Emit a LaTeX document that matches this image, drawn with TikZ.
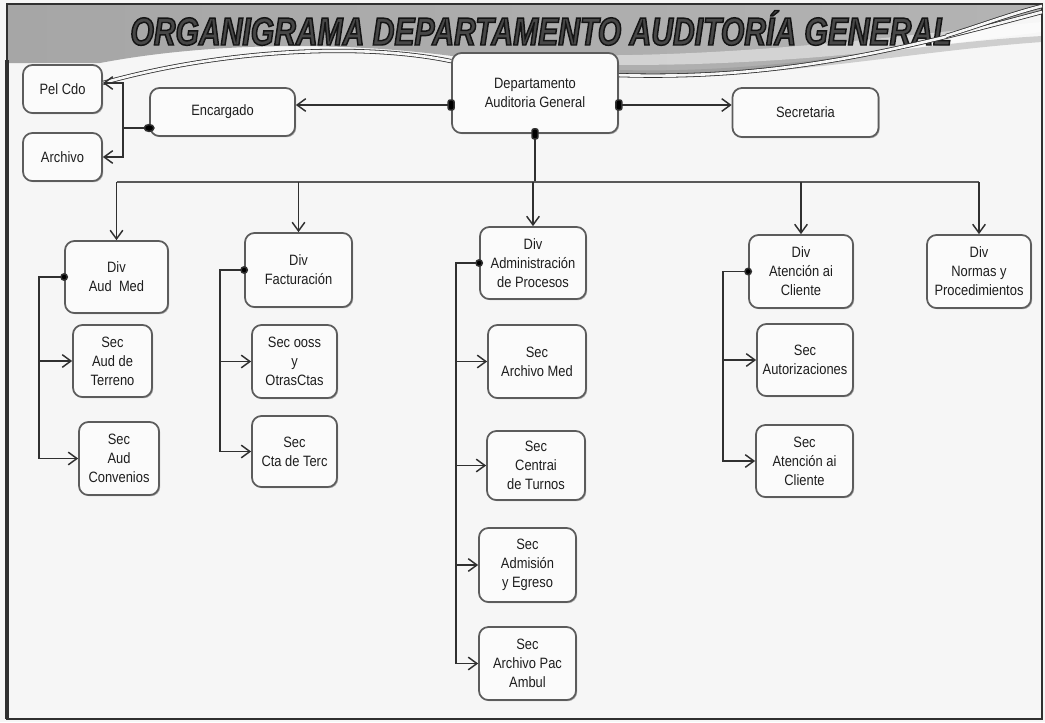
\documentclass[tikz,border=0pt]{standalone}
\usepackage{fontspec}
\setmainfont{Liberation Sans}[FakeStretch=0.86]
\newfontfamily\titlefont{Liberation Sans}[FakeStretch=0.77]
\usetikzlibrary{arrows.meta,shadows,calc}

\definecolor{paper}{HTML}{F6F6F6}
\definecolor{boxfill}{HTML}{FBFBFB}
\definecolor{boxline}{HTML}{5C5C5C}
\definecolor{ink}{HTML}{1E1E1E}
\definecolor{wire}{HTML}{303030}
\definecolor{bandA}{HTML}{A6A6A6}
\definecolor{bandB}{HTML}{C8C8C8}
\definecolor{titleink}{HTML}{474747}

% title letters are filled and stroked, which makes them heavier
\newcommand\titletext{ORGANIGRAMA DEPARTAMENTO AUDITORÍA GENERAL}
\newcommand\heavytitle{\special{pdf:literal direct 2 Tr 1.1 w 0.08 0.08 0.08 RG}\titletext\special{pdf:literal direct 0 Tr}}

\begin{document}
\begin{tikzpicture}[x=0.75pt,y=-0.75pt,
  unitbox/.style={draw=boxline,line width=1.3pt,fill=boxfill,rounded corners=7pt,
    align=center,inner sep=0pt,text=ink,
    font=\fontsize{11.25}{14.25}\selectfont,
    drop shadow={shadow xshift=0.9pt,shadow yshift=-0.9pt,opacity=0.3,fill=black}},
  wh/.style 2 args={minimum width=#1*0.75pt,minimum height=#2*0.75pt},
  wire/.style={draw=wire,line width=1.1pt},
  feed/.style={wire,-{Straight Barb[length=6.5pt,width=9.5pt,line width=1.1pt]}},
  swoosh/.style={draw=wire,line width=0.6pt,double=paper,double distance=2pt},
  titlefont/.style={font=\titlefont\bfseries\itshape\fontsize{29.3}{30}\selectfont,anchor=base}]

% page and frame
\useasboundingbox (0,0) rectangle (1045,722);
\fill[paper] (0,0) rectangle (1045,722);

% header band
\shade[left color=bandA,middle color=bandB,right color=bandA!85!white]
  (8,4) -- (1042,4) -- (1042,12) .. controls (900,50) and (780,80) .. (618,76)
  -- (452,56) .. controls (330,40) and (200,44) .. (100,63) -- (8,63) -- cycle;
\fill[white,opacity=0.45]
  (470,52) .. controls (700,66) and (900,34) .. (1042,22) -- (1042,32)
  .. controls (900,50) and (700,78) .. (470,58) -- cycle;
\fill[bandA!80!black,opacity=0.35]
  (620,70) .. controls (780,74) and (900,44) .. (1042,36) -- (1042,42)
  .. controls (900,52) and (780,80) .. (620,76) -- cycle;

% title
\node[titlefont,text=titleink] (title) at (541,45) {\heavytitle};

% frame
\draw[wire,line width=1.1pt] (7,4) rectangle (1042,719);
\draw[wire,line width=2.4pt] (7,60) -- (7,719);

% top level
\node[unitbox,wh={166}{80}] (dept) at (535,93) {Departamento\\Auditoria General};
\node[unitbox,wh={145}{48}] (enc) at (222.5,112) {Encargado};
\node[unitbox,wh={146}{49}] (secr) at (805.5,112.5) {Secretaria};
\node[unitbox,wh={79}{48}] (pel) at (62.5,89) {Pel Cdo};
\node[unitbox,wh={79}{48}] (arch) at (62.5,157) {Archivo};

% divisions
\node[unitbox,wh={103}{72}] (dam) at (116.5,277) {Div\\Aud\ \ Med};
\node[unitbox,wh={107}{74}] (dfa) at (298.5,270) {Div\\Facturación};
\node[unitbox,wh={106}{72}] (dad) at (533,263) {Div\\Administración\\de Procesos};
\node[unitbox,wh={104}{73}] (dat) at (801,271.5) {Div\\Atención ai\\Cliente};
\node[unitbox,wh={104}{73}] (dnp) at (979,271.5) {Div\\Normas y\\Procedimientos};

% sections
\node[unitbox,wh={79}{72}] (sat) at (112.5,361) {Sec\\Aud de\\Terreno};
\node[unitbox,wh={80}{73}] (sac) at (119,458.5) {Sec\\Aud\\Convenios};
\node[unitbox,wh={85}{73}] (soo) at (294.5,361.5) {Sec ooss\\y\\OtrasCtas};
\node[unitbox,wh={85}{71}] (sct) at (294.5,451.5) {Sec\\Cta de Terc};
\node[unitbox,wh={98}{73}] (sam) at (537,361.5) {Sec\\Archivo Med};
\node[unitbox,wh={98}{69}] (stu) at (536,465.5) {Sec\\Centrai\\de Turnos};
\node[unitbox,wh={97}{74}] (sae) at (527.5,565) {Sec\\Admisión\\y Egreso};
\node[unitbox,wh={97}{73}] (sap) at (527.5,663.5) {Sec\\Archivo Pac\\Ambul};
\node[unitbox,wh={96}{72}] (sau) at (805,360) {Sec\\Autorizaciones};
\node[unitbox,wh={97}{72}] (sac2) at (804.5,461) {Sec\\Atención ai\\Cliente};

% decorative double lines of the header
\draw[swoosh] ([yshift=-6.75pt]dept.north west) .. controls (360,42) and (220,50) .. ([yshift=4.5pt]pel.east);
\draw[swoosh] ([yshift=-17.25pt]dept.north east) .. controls (780,80) and (900,50) .. (1042,12);
\draw[swoosh] (946,36) .. controls (985,24) and (1010,14) .. (1042,6);

% department to encargado / secretaria
\draw[feed] ([yshift=-9pt]dept.west) coordinate (dw) -- (enc.east |- dw);
\draw[feed] ([yshift=-9pt]dept.east) coordinate (de) -- (secr.west |- de);
\fill[wire,rounded corners=1.5pt] ($(dw)+(-3,-5)$) rectangle ($(dw)+(3,5)$);
\fill[wire,rounded corners=1.5pt] ($(de)+(-3,-5)$) rectangle ($(de)+(3,5)$);

% encargado to pel cdo / archivo
\coordinate (encdot) at ([yshift=-12pt]enc.west);
\draw[feed] (encdot) -- ++(-26,0) |- ([yshift=4.5pt]pel.east);
\draw[feed] (encdot) -- ++(-26,0) |- (arch.east);
\fill[wire] (encdot) ellipse (3.6pt and 2.6pt);

% bus to the divisions
\coordinate (busL) at (116.5,182);
\coordinate (busR) at (979,182);
\draw[wire] (dept.south) -- (dept.south |- busL);
\fill[wire,rounded corners=1.5pt] ($(dept.south)+(-3,-5)$) rectangle ($(dept.south)+(3,5)$);
\draw[wire,line width=1.6pt,draw=wire!80!white] (busL) -- (busR);
\draw[feed] (busL) -- (dam.north);
\draw[feed] (dfa.north |- busL) -- (dfa.north);
\draw[feed] (dad.north |- busL) -- (dad.north);
\draw[feed] (dat.north |- busL) -- (dat.north);
\draw[feed] (busR) -- (dnp.north);

% divisions to sections
\draw[feed] (dam.west) -- ++(-25,0) |- (sat.west);
\draw[feed] (dam.west) -- ++(-25,0) |- (sac.west);
\fill[wire] (dam.west) circle (2.4pt);

\draw[feed] (dfa.west) -- ++(-24,0) |- (soo.west);
\draw[feed] (dfa.west) -- ++(-24,0) |- (sct.west);
\fill[wire] (dfa.west) circle (2.4pt);

\draw[feed] (dad.west) -- ++(-23,0) |- (sam.west);
\draw[feed] (dad.west) -- ++(-23,0) |- (stu.west);
\draw[feed] (dad.west) -- ++(-23,0) |- (sae.west);
\draw[feed] (dad.west) -- ++(-23,0) |- (sap.west);
\fill[wire] (dad.west) circle (2.4pt);

\draw[feed] (dat.west) -- ++(-25,0) |- (sau.west);
\draw[feed] (dat.west) -- ++(-25,0) |- (sac2.west);
\fill[wire] (dat.west) circle (2.4pt);
\end{tikzpicture}
\end{document}
